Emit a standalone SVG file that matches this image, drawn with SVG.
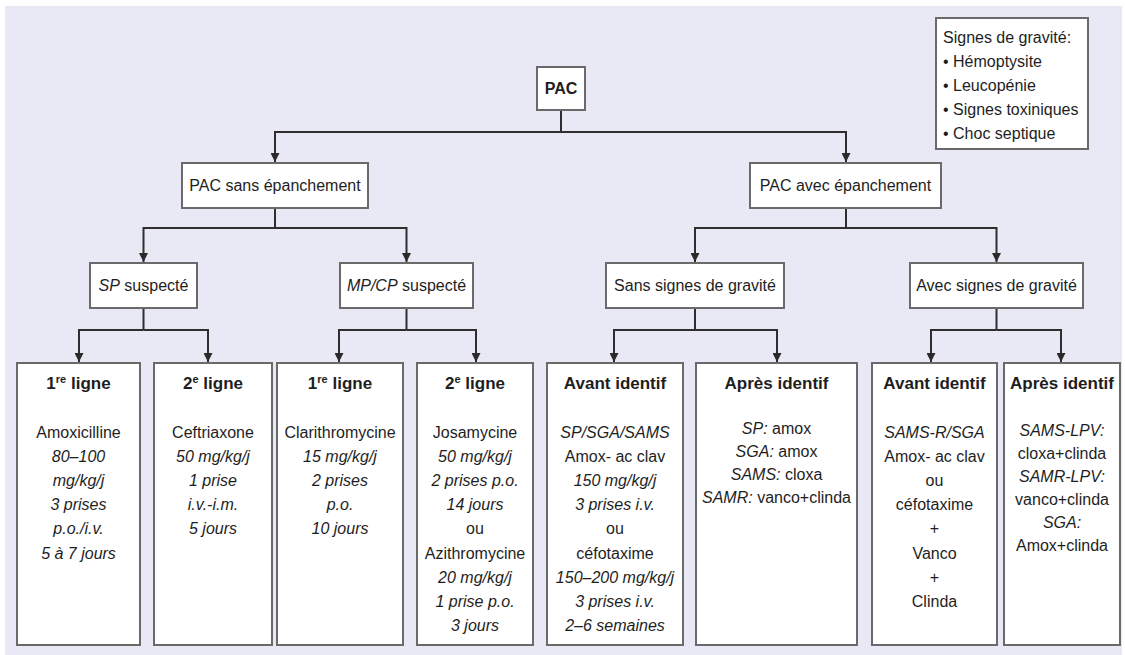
<svg xmlns="http://www.w3.org/2000/svg" width="1125" height="655" viewBox="0 0 1125 655">
  <defs>
    <marker id="arrow" viewBox="0 0 10 10" refX="10" refY="5" markerWidth="11" markerHeight="9" markerUnits="userSpaceOnUse" orient="auto">
      <path d="M0,0 L10,5 L0,10 z" fill="#2a2a2a"/>
    </marker>
    <style>
      .box { fill: #ffffff; stroke: #6a6a6a; stroke-width: 2; }
      .wire { fill: none; stroke: #2e2e2e; stroke-width: 2; }
      text { font-family: "Liberation Sans", Arial, sans-serif; font-size: 16px; fill: #1e1e1e; text-anchor: middle; }
      .title { font-weight: bold; font-size: 17px; }
      .it { font-style: italic; }
      .legend text { text-anchor: start; }
      .sup { font-size: 11px; }
    </style>
  </defs>

  <!-- page background -->
  <rect x="0" y="0" width="1125" height="655" fill="#ffffff"/>
  <rect x="5" y="6" width="1117" height="649" fill="#e8e9f4"/>

  <!-- connectors -->
  <g id="connectors">
    <path class="wire" d="M561,110 V132"/>
    <path class="wire" d="M561,132 H275 V162" marker-end="url(#arrow)"/>
    <path class="wire" d="M561,132 H846 V162" marker-end="url(#arrow)"/>

    <path class="wire" d="M275,208 V228"/>
    <path class="wire" d="M275,228 H143.5 V262" marker-end="url(#arrow)"/>
    <path class="wire" d="M275,228 H406.5 V262" marker-end="url(#arrow)"/>
    <path class="wire" d="M846,208 V228"/>
    <path class="wire" d="M846,228 H695 V262" marker-end="url(#arrow)"/>
    <path class="wire" d="M846,228 H996.5 V262" marker-end="url(#arrow)"/>

    <path class="wire" d="M143.5,308 V330"/>
    <path class="wire" d="M143.5,330 H79 V362" marker-end="url(#arrow)"/>
    <path class="wire" d="M143.5,330 H208 V362" marker-end="url(#arrow)"/>
    <path class="wire" d="M406.5,308 V330"/>
    <path class="wire" d="M406.5,330 H339 V362" marker-end="url(#arrow)"/>
    <path class="wire" d="M406.5,330 H476 V362" marker-end="url(#arrow)"/>
    <path class="wire" d="M695,308 V330"/>
    <path class="wire" d="M695,330 H614 V362" marker-end="url(#arrow)"/>
    <path class="wire" d="M695,330 H777 V362" marker-end="url(#arrow)"/>
    <path class="wire" d="M996.5,308 V330"/>
    <path class="wire" d="M996.5,330 H931 V362" marker-end="url(#arrow)"/>
    <path class="wire" d="M996.5,330 H1061 V362" marker-end="url(#arrow)"/>
  </g>

  <!-- legend -->
  <g id="legend" class="legend">
    <rect class="box" x="936" y="18" width="152" height="131"/>
    <text x="943" y="43">Signes de gravité:</text>
    <text x="943" y="67">• Hémoptysite</text>
    <text x="943" y="91">• Leucopénie</text>
    <text x="943" y="115">• Signes toxiniques</text>
    <text x="943" y="139">• Choc septique</text>
  </g>

  <!-- root -->
  <g id="pac">
    <rect class="box" x="537" y="67" width="48" height="43"/>
    <text class="title" x="561" y="94" style="font-size:16px">PAC</text>
  </g>

  <!-- second level -->
  <g id="sans-epanchement">
    <rect class="box" x="182" y="163" width="186" height="45"/>
    <text x="275" y="191">PAC sans épanchement</text>
  </g>
  <g id="avec-epanchement">
    <rect class="box" x="750" y="163" width="191" height="45"/>
    <text x="845.5" y="191">PAC avec épanchement</text>
  </g>

  <!-- third level -->
  <g id="sp-suspecte">
    <rect class="box" x="90" y="263" width="107" height="45"/>
    <text x="143.5" y="291"><tspan class="it">SP</tspan> suspecté</text>
  </g>
  <g id="mpcp-suspecte">
    <rect class="box" x="340" y="263" width="133" height="45"/>
    <text x="406.5" y="291"><tspan class="it">MP/CP</tspan> suspecté</text>
  </g>
  <g id="sans-signes">
    <rect class="box" x="606" y="263" width="178" height="45"/>
    <text x="695" y="291">Sans signes de gravité</text>
  </g>
  <g id="avec-signes">
    <rect class="box" x="910" y="263" width="173" height="45"/>
    <text x="996.5" y="291">Avec signes de gravité</text>
  </g>

  <!-- treatment boxes -->
  <g id="sp-ligne1">
    <rect class="box" x="17" y="363" width="123" height="282"/>
    <text class="title" x="78.5" y="389">1<tspan class="sup" dy="-6">re</tspan><tspan dy="6"> ligne</tspan></text>
    <text x="78.5" y="438">Amoxicilline</text>
    <text class="it" x="78.5" y="462">80–100</text>
    <text class="it" x="78.5" y="486">mg/kg/j</text>
    <text class="it" x="78.5" y="510">3 prises</text>
    <text class="it" x="78.5" y="534">p.o./i.v.</text>
    <text class="it" x="78.5" y="559">5 à 7 jours</text>
  </g>
  <g id="sp-ligne2">
    <rect class="box" x="154" y="363" width="118" height="282"/>
    <text class="title" x="213" y="389">2<tspan class="sup" dy="-6">e</tspan><tspan dy="6"> ligne</tspan></text>
    <text x="213" y="438">Ceftriaxone</text>
    <text class="it" x="213" y="462">50 mg/kg/j</text>
    <text class="it" x="213" y="486">1 prise</text>
    <text class="it" x="213" y="510">i.v.-i.m.</text>
    <text class="it" x="213" y="534">5 jours</text>
  </g>
  <g id="mpcp-ligne1">
    <rect class="box" x="277" y="363" width="126" height="282"/>
    <text class="title" x="340" y="389">1<tspan class="sup" dy="-6">re</tspan><tspan dy="6"> ligne</tspan></text>
    <text x="340" y="438">Clarithromycine</text>
    <text class="it" x="340" y="462">15 mg/kg/j</text>
    <text class="it" x="340" y="486">2 prises</text>
    <text class="it" x="340" y="510">p.o.</text>
    <text class="it" x="340" y="534">10 jours</text>
  </g>
  <g id="mpcp-ligne2">
    <rect class="box" x="417" y="363" width="116" height="282"/>
    <text class="title" x="475" y="389">2<tspan class="sup" dy="-6">e</tspan><tspan dy="6"> ligne</tspan></text>
    <text x="475" y="438">Josamycine</text>
    <text class="it" x="475" y="462">50 mg/kg/j</text>
    <text class="it" x="475" y="486">2 prises p.o.</text>
    <text class="it" x="475" y="510">14 jours</text>
    <text x="475" y="534">ou</text>
    <text x="475" y="559">Azithromycine</text>
    <text class="it" x="475" y="583">20 mg/kg/j</text>
    <text class="it" x="475" y="607">1 prise p.o.</text>
    <text class="it" x="475" y="631">3 jours</text>
  </g>
  <g id="sans-avant">
    <rect class="box" x="547" y="363" width="136" height="282"/>
    <text class="title" x="615" y="389">Avant identif</text>
    <text class="it" x="615" y="438">SP/SGA/SAMS</text>
    <text x="615" y="462">Amox- ac clav</text>
    <text class="it" x="615" y="486">150 mg/kg/j</text>
    <text class="it" x="615" y="510">3 prises i.v.</text>
    <text x="615" y="534">ou</text>
    <text x="615" y="559">céfotaxime</text>
    <text class="it" x="615" y="583">150–200 mg/kg/j</text>
    <text class="it" x="615" y="607">3 prises i.v.</text>
    <text class="it" x="615" y="631">2–6 semaines</text>
  </g>
  <g id="sans-apres">
    <rect class="box" x="696" y="363" width="161" height="282"/>
    <text class="title" x="776.5" y="389">Après identif</text>
    <text x="776.5" y="434"><tspan class="it">SP:</tspan> amox</text>
    <text x="776.5" y="457"><tspan class="it">SGA:</tspan> amox</text>
    <text x="776.5" y="480"><tspan class="it">SAMS:</tspan> cloxa</text>
    <text x="776.5" y="503"><tspan class="it">SAMR:</tspan> vanco+clinda</text>
  </g>
  <g id="avec-avant">
    <rect class="box" x="872" y="363" width="125" height="282"/>
    <text class="title" x="934.5" y="389">Avant identif</text>
    <text class="it" x="934.5" y="438">SAMS-R/SGA</text>
    <text x="934.5" y="462">Amox- ac clav</text>
    <text x="934.5" y="486">ou</text>
    <text x="934.5" y="510">céfotaxime</text>
    <text x="934.5" y="534">+</text>
    <text x="934.5" y="559">Vanco</text>
    <text x="934.5" y="583">+</text>
    <text x="934.5" y="607">Clinda</text>
  </g>
  <g id="avec-apres">
    <rect class="box" x="1004" y="363" width="116" height="282"/>
    <text class="title" x="1062" y="389">Après identif</text>
    <text class="it" x="1062" y="436">SAMS-LPV:</text>
    <text x="1062" y="459">cloxa+clinda</text>
    <text class="it" x="1062" y="482">SAMR-LPV:</text>
    <text x="1062" y="505">vanco+clinda</text>
    <text class="it" x="1062" y="528">SGA:</text>
    <text x="1062" y="551">Amox+clinda</text>
  </g>
</svg>
